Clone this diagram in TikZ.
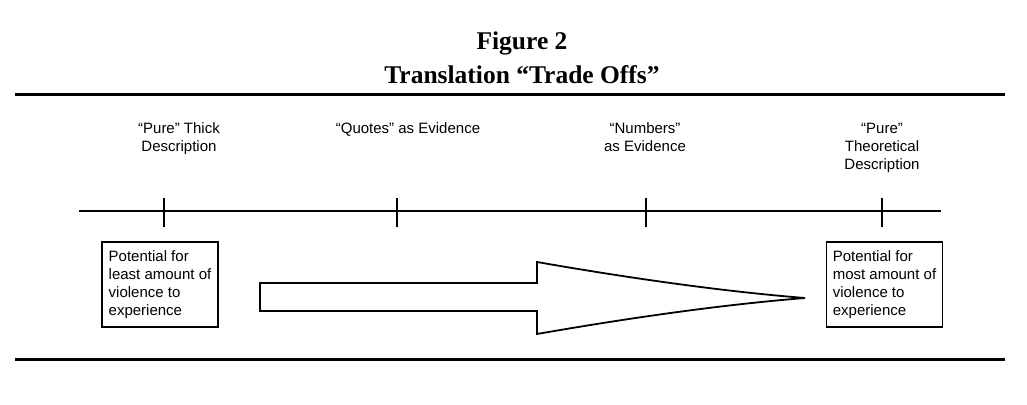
\documentclass[tikz,border=0pt]{standalone}
\usepackage{fontspec}
\setmainfont{Liberation Sans}
\newfontfamily\titlefont{Liberation Serif}
\usetikzlibrary{calc}

\begin{document}
\begin{tikzpicture}[x=1pt, y=-1pt,
  font=\fontsize{15}{18}\selectfont,
  ttl/.style={font=\titlefont\bfseries\fontsize{25.5}{30}\selectfont, anchor=base, inner sep=0pt},
  lbl/.style={align=center, anchor=north, inner sep=0pt},
  box/.style={draw, line width=1.1pt, align=left, inner xsep=0pt,
    minimum width=116pt, minimum height=85pt},
  rule/.style={line width=3pt},
  axis/.style={line width=1.3pt}]
\useasboundingbox (0,0) rectangle (1027,404);

%% ===================== title =====================
\node[ttl] (fig) at (522,49) {Figure 2};
\node[ttl] (sub) at (522,83) {Translation “Trade Offs”};
\draw[rule] (15,94.5) -- (1005,94.5);
\draw[rule] (15,359) -- (1005,359);

%% ===================== axis =====================
\coordinate (a0) at (79,211);
\coordinate (a1) at (941,211);
\draw[axis] (a0) -- (a1);
\foreach \x/\n in {164/t1,397/t2,646/t3,882/t4}{
  \coordinate (\n) at (\x,211);
  \draw[axis] ($(\n)+(0,-13)$) -- ($(\n)+(0,16)$);}

\node[lbl] (thick) at (179,122.5) {“Pure” Thick\\Description};
\node[lbl] (quotes) at (408,122.5) {“Quotes” as Evidence};
\node[lbl] (numbers) at (645,122.5) {“Numbers”\\as Evidence};
\node[lbl] (theory) at (882,122.5) {“Pure”\\Theoretical\\Description};

%% ===================== end boxes =====================
\node[box] (least) at (160,284.5)
  {Potential for\\least amount of\\violence to\\experience};
\node[box] (most) at (884.5,284.5)
  {Potential for\\most amount of\\violence to\\experience};

%% ===================== arrow =====================
\draw[line width=1.8pt, line join=miter]
  (260,283) -- (537,283) -- (537,262)
  .. controls (640,280) and (730,292) .. (805,298)
  .. controls (730,304) and (640,316) .. (537,334)
  -- (537,311) -- (260,311) -- cycle;

\end{tikzpicture}
\end{document}
